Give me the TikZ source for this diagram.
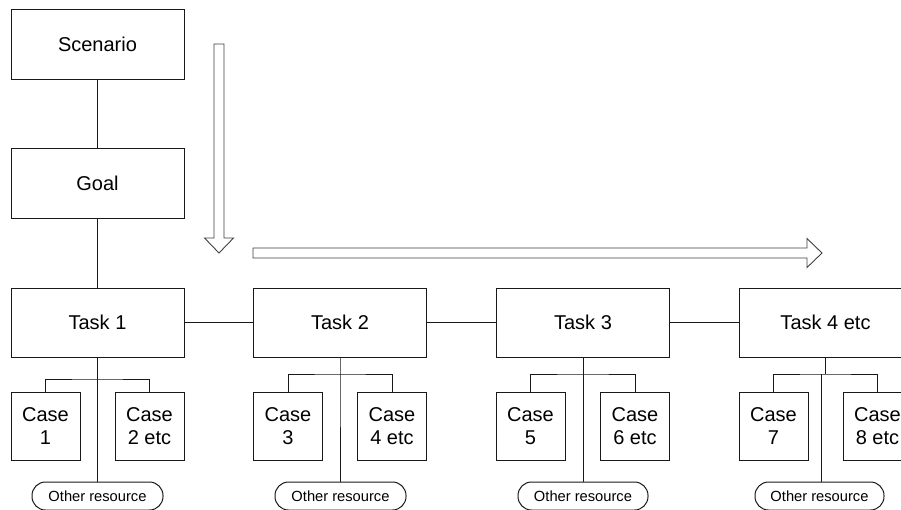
\documentclass[tikz,border=0pt]{standalone}
\usepackage{fontspec}
\setmainfont{Liberation Sans}
\begin{document}
\begin{tikzpicture}[x=1pt,y=-1pt,
  box/.style={draw=black!90, line width=1pt, fill=white, inner sep=0pt,
    font=\fontsize{20}{23.5}\selectfont, align=center},
  taskbox/.style={box, minimum width=173pt, minimum height=69pt},
  casebox/.style={box, minimum width=69pt, minimum height=68pt},
  resbox/.style={draw=black!90, line width=1pt, fill=white, rounded corners=13.5pt,
    minimum width=130pt, minimum height=28pt, inner sep=0pt,
    font=\fontsize{14.7}{16}\selectfont},
  link/.style={draw=black!90, line width=1pt},
  bigarrow/.style={draw=black!75, line width=0.9pt, fill=white, line join=miter}]

\useasboundingbox (0,0) rectangle (901,509);

% top of the hierarchy
\node[box, minimum width=173pt, minimum height=70pt] (scen) at (97.5,44) {Scenario};
\node[box, minimum width=173pt, minimum height=70pt] (goal) at (97.5,183) {Goal};

% tasks
\node[taskbox] (t1) at (97.5,322.5) {Task 1};
\node[taskbox] (t2) at (340,322.5) {Task 2};
\node[taskbox] (t3) at (583,322.5) {Task 3};
\node[taskbox] (t4) at (825.5,322.5) {Task 4 etc};

% cases
\node[casebox] (c1) at (45.5,426) {Case\\1};
\node[casebox] (c2) at (149.5,426) {Case\\2 etc};
\node[casebox] (c3) at (288,426) {Case\\3};
\node[casebox] (c4) at (392,426) {Case\\4 etc};
\node[casebox] (c5) at (530.5,426) {Case\\5};
\node[casebox] (c6) at (635,426) {Case\\6 etc};
\node[casebox] (c7) at (773.5,426) {Case\\7};
\node[casebox] (c8) at (877.5,426) {Case\\8 etc};

% other resources
\node[resbox, minimum width=131pt] (r1) at (97.5,496) {Other resource};
\node[resbox, minimum width=131pt] (r2) at (340.5,496) {Other resource};
\node[resbox] (r3) at (583,496) {Other resource};
\node[resbox, minimum width=129pt] (r4) at (819.5,496) {Other resource};

% branch points below the tasks
\coordinate (b1) at (97.5,379);
\coordinate (b2) at (340,374);
\coordinate (b3) at (583,374);
\coordinate (b4) at (825.5,374);
\coordinate (b4r) at (821,374);

% chain of boxes
\draw[link] (scen) -- (goal);
\draw[link] (goal) -- (t1);
\draw[link] (t1) -- (t2);
\draw[link] (t2) -- (t3);
\draw[link] (t3) -- (t4);

% task to cases and resource
\draw[link] (t1.south) -- (b1) -- (r1.north);
\draw[link] (c1.north) |- (b1) -| (c2.north);
\draw[link] (t2.south) -- (b2) -- (b2 |- r2.north);
\draw[link] (c3.north) |- (b2) -| (c4.north);
\draw[link] (t3.south) -- (b3) -- (r3.north);
\draw[link] (c5.north) |- (b3) -| (c6.north);
\draw[link] (t4.south) -- (b4);
\draw[link] (b4r) -- (b4r |- r4.north);
\draw[link] (c7.north) |- (b4) -| (c8.north);

% hollow direction arrows
\draw[bigarrow] (214,44) -- (224,44) -- (224,238) -- (233.5,238) -- (219,253)
  -- (204.5,238) -- (214,238) -- cycle;
\draw[bigarrow] (253,248) -- (807,248) -- (807,238.5) -- (822,253) -- (807,267.5)
  -- (807,258) -- (253,258) -- cycle;
\end{tikzpicture}
\end{document}
